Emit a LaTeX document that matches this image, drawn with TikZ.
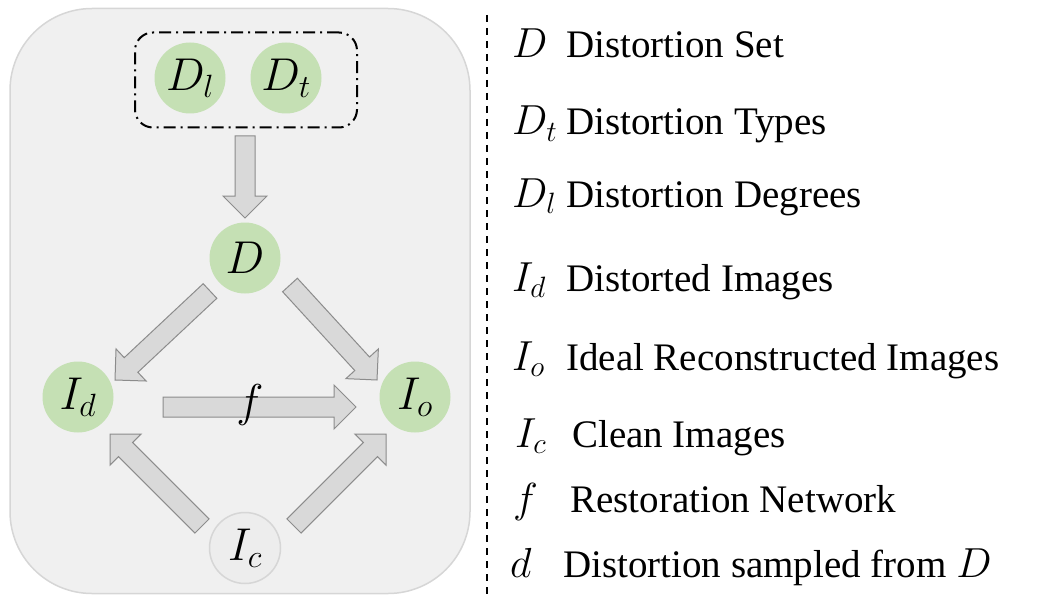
\RequirePackage{fix-cm}
\documentclass[tikz,border=0pt]{standalone}
\usepackage{fontspec}
\setmainfont{Liberation Serif}
\usepackage{tikz}
\usetikzlibrary{arrows,calc}
\definecolor{nodegreen}{HTML}{C5E0B4}
\definecolor{panelgray}{HTML}{F0F0F0}
\definecolor{paneledge}{HTML}{D6D6D6}
\definecolor{arrowfill}{HTML}{D9D9D9}
\definecolor{arrowedge}{HTML}{8C8C8C}
\definecolor{cleanfill}{HTML}{EDEDED}
\definecolor{cleanedge}{HTML}{D6D6D6}

\begin{document}
\begin{tikzpicture}[x=1pt,y=-1pt]
\tikzstyle{every node}=[inner sep=0pt];
\tikzstyle{var}=[shape=circle, fill=nodegreen, minimum size=71pt, font=\fontsize{46}{50}\selectfont];
\tikzstyle{sym}=[anchor=base west, font=\fontsize{42}{50}\selectfont];
\tikzstyle{txt}=[anchor=base west, font=\fontsize{39}{46}\selectfont];
% block arrow: shaft 20pt wide, head 44pt wide and 22pt long
\tikzstyle{fat}=[draw=arrowedge, fill=arrowfill, line width=1pt,
  to path={($(\tikztostart)!10pt!90:(\tikztotarget)$)
    -- ($(\tikztotarget)!22pt!(\tikztostart)!10pt!90:(\tikztotarget)$)
    -- ($(\tikztotarget)!22pt!(\tikztostart)!22pt!90:(\tikztotarget)$)
    -- (\tikztotarget)
    -- ($(\tikztotarget)!22pt!(\tikztostart)!22pt!-90:(\tikztotarget)$)
    -- ($(\tikztotarget)!22pt!(\tikztostart)!10pt!-90:(\tikztotarget)$)
    -- ($(\tikztostart)!10pt!-90:(\tikztotarget)$) -- cycle}];
\useasboundingbox (0,0) rectangle (1056,596);

\node [fill=panelgray, draw=paneledge, line width=1.5pt, rounded corners=82pt,
       minimum width=460pt, minimum height=585pt] (panel) at (240,301) {};
\node [draw, line width=2pt, dash pattern=on 12pt off 5pt on 2pt off 5pt,
       rounded corners=18pt, minimum width=222pt, minimum height=95pt] (grp) at (246,80) {};

\node [var] (Dl) at (190,78) {$D_l$};
\node [var] (Dt) at (286,78) {$D_t$};
\node [var] (D) at (245,258) {$D$};
\node [var] (Id) at (78,397) {$I_d$};
\node [var] (Io) at (415,397) {$I_o$};
\node [var, fill=cleanfill, draw=cleanedge, line width=1.5pt] (Ic) at (245,548) {$I_c$};

% arrow ends
\coordinate (t0) at (245,136); \coordinate (h0) at (245,218);
\coordinate (t1) at (210,291); \coordinate (h1) at (115,380);
\coordinate (t2) at (290,285); \coordinate (h2) at (377,380);
\coordinate (t3) at (202,526); \coordinate (h3) at (110,434);
\coordinate (t4) at (294,526); \coordinate (h4) at (386,434);
\coordinate (t5) at (163,407); \coordinate (h5) at (356,407);
\draw [fat] (t0) to (h0);
\draw [fat] (t1) to (h1);
\draw [fat] (t2) to (h2);
\draw [fat] (t3) to (h3);
\draw [fat] (t4) to (h4);
\draw [fat] (t5) to (h5);
\node [font=\fontsize{46}{50}\selectfont] (fl) at (250,405) {$f$};

% separator
\coordinate (top) at (487,15);
\coordinate (bot) at (487,596);
\draw [line width=1.5pt, dash pattern=on 7pt off 6pt] (top) -- (bot);

% legend
\node [sym] (s1) at (512,58) {$D$};
\node [txt] (l1) at (566,58) {Distortion Set};
\node [sym] (s2) at (512,135) {$D_t$};
\node [txt] (l2) at (566,135) {Distortion Types};
\node [sym] (s3) at (512,207) {$D_l$};
\node [txt] (l3) at (566,207) {Distortion Degrees};
\node [sym] (s4) at (512,291) {$I_d$};
\node [txt] (l4) at (566,291) {Distorted Images};
\node [sym] (s5) at (512,370) {$I_o$};
\node [txt] (l5) at (566,370) {Ideal Reconstructed Images};
\node [sym] (s6) at (515,447) {$I_c$};
\node [txt] (l6) at (572,447) {Clean Images};
\node [sym] (s7) at (513,512) {$f$};
\node [txt] (l7) at (570,512) {Restoration Network};
\node [sym] (s8) at (510,577) {$d$};
\node [txt] (l8) at (563,577) {Distortion sampled from {\fontsize{42}{50}\selectfont$D$}};
\end{tikzpicture}
\end{document}
